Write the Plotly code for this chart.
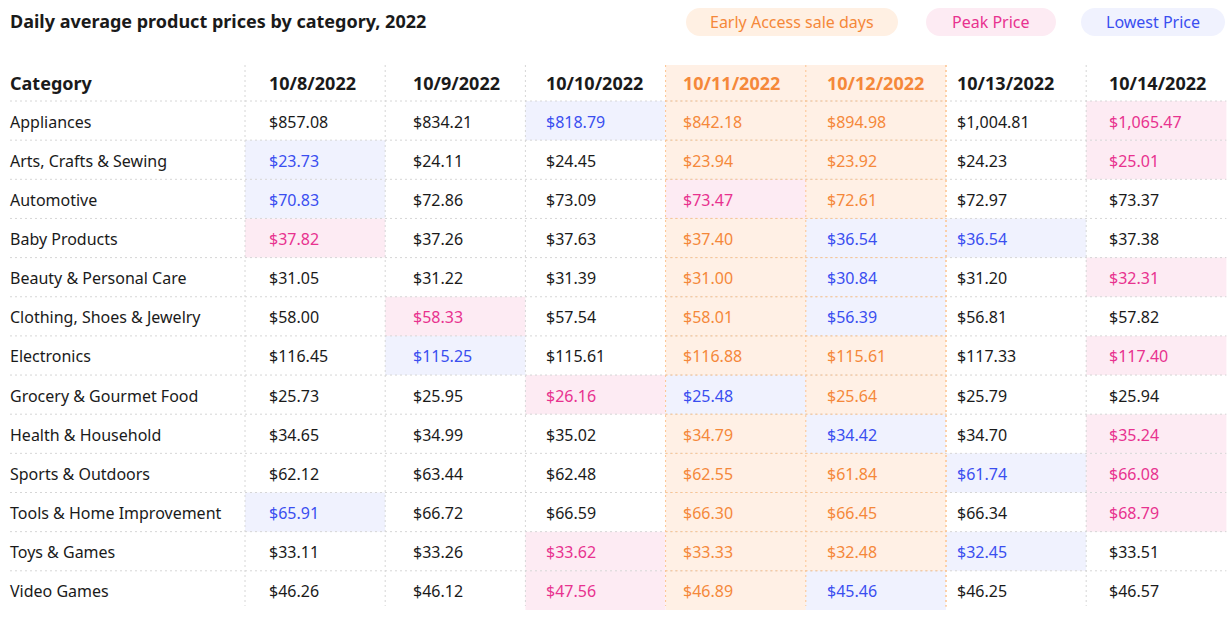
import plotly.graph_objects as go

# ---------------- data ----------------
title = "Daily average product prices by category, 2022"
header_first = "Category"
dates = ["10/8/2022", "10/9/2022", "10/10/2022", "10/11/2022",
         "10/12/2022", "10/13/2022", "10/14/2022"]
early_access_dates = ["10/11/2022", "10/12/2022"]
legend_labels = ["Early Access sale days", "Peak Price", "Lowest Price"]

categories = ["Appliances", "Arts, Crafts & Sewing", "Automotive", "Baby Products",
              "Beauty & Personal Care", "Clothing, Shoes & Jewelry", "Electronics",
              "Grocery & Gourmet Food", "Health & Household", "Sports & Outdoors",
              "Tools & Home Improvement", "Toys & Games", "Video Games"]

prices_10_08 = [857.08, 23.73, 70.83, 37.82, 31.05, 58.00, 116.45, 25.73, 34.65, 62.12, 65.91, 33.11, 46.26]
prices_10_09 = [834.21, 24.11, 72.86, 37.26, 31.22, 58.33, 115.25, 25.95, 34.99, 63.44, 66.72, 33.26, 46.12]
prices_10_10 = [818.79, 24.45, 73.09, 37.63, 31.39, 57.54, 115.61, 26.16, 35.02, 62.48, 66.59, 33.62, 47.56]
prices_10_11 = [842.18, 23.94, 73.47, 37.40, 31.00, 58.01, 116.88, 25.48, 34.79, 62.55, 66.30, 33.33, 46.89]
prices_10_12 = [894.98, 23.92, 72.61, 36.54, 30.84, 56.39, 115.61, 25.64, 34.42, 61.84, 66.45, 32.48, 45.46]
prices_10_13 = [1004.81, 24.23, 72.97, 36.54, 31.20, 56.81, 117.33, 25.79, 34.70, 61.74, 66.34, 32.45, 46.25]
prices_10_14 = [1065.47, 25.01, 73.37, 37.38, 32.31, 57.82, 117.40, 25.94, 35.24, 66.08, 68.79, 33.51, 46.57]

columns = [prices_10_08, prices_10_09, prices_10_10, prices_10_11,
           prices_10_12, prices_10_13, prices_10_14]

# ---------------- style / layout ----------------
FONT = "Noto Sans"
W, H = 1232, 640
BLACK = "#1a1a1a"
ORANGE_TXT, ORANGE_BG, ORANGE_LINE = "#f5883a", "#fff0e5", "#fcc490"
PINK_TXT, PINK_BG = "#e8328f", "#fdebf3"
BLUE_TXT, BLUE_BG = "#3a4ef0", "#f0f2fe"
GRID = "#d6d6d6"

left = 10
cat_right = 245
col_w = 140.2
head_top, head_bot = 65, 101
row_h = 39.15
right = cat_right + col_w * len(dates)
text_pad = [24, 28, 21, 17, 21, 11, 23]
TXT_SHIFT = -2  # compensate annotation inner padding

def col_x0(j):
    return cat_right + j * col_w

def row_y0(i):
    return head_bot + i * row_h

n_rows = len(categories)
bottom = row_y0(n_rows)

shapes = []
annotations = []

def rect(x0, x1, y0, y1, color):
    shapes.append(dict(type="rect", xref="x", yref="y", x0=x0, x1=x1, y0=y0, y1=y1,
                       fillcolor=color, line=dict(width=0), layer="below"))

def line(x0, y0, x1, y1, color):
    shapes.append(dict(type="line", xref="x", yref="y", x0=x0, x1=x1, y0=y0, y1=y1,
                       line=dict(color=color, width=1, dash="2px,3px"), layer="below"))

def text(x, y, s, color, size, bold=False, anchor="left"):
    if anchor == "left":
        x = x + TXT_SHIFT
    annotations.append(dict(xref="x", yref="y", x=x, y=y, text=s, showarrow=False,
                            xanchor=anchor, yanchor="middle",
                            font=dict(family=FONT, size=size, color=color,
                                      weight=700 if bold else 400)))

# early access background
ea_idx = [dates.index(d) for d in early_access_dates]
rect(col_x0(min(ea_idx)), col_x0(max(ea_idx) + 1), head_top, bottom, ORANGE_BG)

# peak / lowest highlights
cell_style = {}
for i in range(n_rows):
    vals = [c[i] for c in columns]
    hi, lo = max(vals), min(vals)
    for j, v in enumerate(vals):
        if v == hi:
            cell_style[(i, j)] = (PINK_TXT, PINK_BG)
        elif v == lo:
            cell_style[(i, j)] = (BLUE_TXT, BLUE_BG)

for (i, j), (tc, bg) in cell_style.items():
    rect(col_x0(j), col_x0(j + 1), row_y0(i), row_y0(i + 1), bg)

# grid lines
for i in range(n_rows):
    y = row_y0(i)
    line(left, y, right, y, GRID)
    line(col_x0(min(ea_idx)), y, col_x0(max(ea_idx) + 1), y, ORANGE_LINE)
for j in range(len(dates)):
    x = col_x0(j)
    is_ea = j in ea_idx or (j - 1) in ea_idx
    line(x, head_top, x, bottom - 4, ORANGE_LINE if is_ea else GRID)
j_end = max(ea_idx) + 1
line(col_x0(j_end), head_top, col_x0(j_end), bottom - 2, ORANGE_LINE)

# header
text(left, (head_top + head_bot) / 2, header_first, BLACK, 18, bold=True)
for j, d in enumerate(dates):
    c = ORANGE_TXT if j in ea_idx else BLACK
    text(col_x0(j) + text_pad[j], (head_top + head_bot) / 2, d, c, 18, bold=True)

# body
for i, cat in enumerate(categories):
    yc = row_y0(i) + row_h / 2 + 1
    text(left, yc, cat, BLACK, 16)
    for j, col in enumerate(columns):
        v = col[i]
        if (i, j) in cell_style:
            c = cell_style[(i, j)][0]
        elif j in ea_idx:
            c = ORANGE_TXT
        else:
            c = BLACK
        text(col_x0(j) + text_pad[j], yc, f"${v:,.2f}", c, 16)

# title
text(left, 21, title, BLACK, 18, bold=True)

# legend pills
def pill(x0, x1, y0, y1, color):
    r = (y1 - y0) / 2
    k = 0.5523 * r
    ym = (y0 + y1) / 2
    p = (f"M {x0 + r},{y0} L {x1 - r},{y0} "
         f"C {x1 - r + k},{y0} {x1},{ym - k} {x1},{ym} "
         f"C {x1},{ym + k} {x1 - r + k},{y1} {x1 - r},{y1} "
         f"L {x0 + r},{y1} "
         f"C {x0 + r - k},{y1} {x0},{ym + k} {x0},{ym} "
         f"C {x0},{ym - k} {x0 + r - k},{y0} {x0 + r},{y0} Z")
    shapes.append(dict(type="path", xref="x", yref="y", path=p, fillcolor=color,
                       line=dict(width=0), layer="below"))

pill_spans = [(686, 898), (926, 1056), (1081, 1225)]
pill_colors = [(ORANGE_TXT, "#fff0e3"), (PINK_TXT, PINK_BG), (BLUE_TXT, BLUE_BG)]
for (x0, x1), (tc, bg), lab in zip(pill_spans, pill_colors, legend_labels):
    pill(x0, x1, 8, 36, bg)
    text((x0 + x1) / 2, 22, lab, tc, 16, anchor="center")

fig = go.Figure(go.Scatter(x=[0], y=[0], mode="markers", marker=dict(opacity=0),
                           hoverinfo="skip", showlegend=False))
fig.update_layout(
    width=W, height=H, margin=dict(l=0, r=0, t=0, b=0),
    paper_bgcolor="white", plot_bgcolor="white",
    xaxis=dict(range=[0, W], visible=False, fixedrange=True),
    yaxis=dict(range=[H, 0], visible=False, fixedrange=True),
    shapes=shapes, annotations=annotations, showlegend=False,
)
fig.write_html(
    "out.html",
    config={"displayModeBar": False},
    post_script="document.body.style.margin='0px';document.body.style.overflow='hidden';",
)
